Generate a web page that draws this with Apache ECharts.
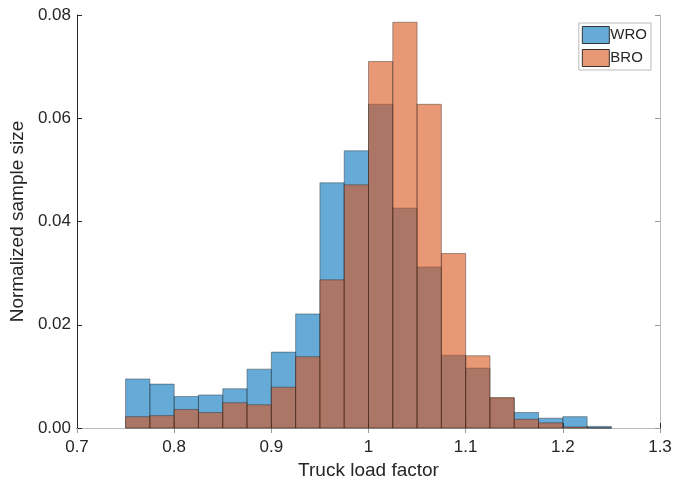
<!DOCTYPE html>
<html>
<head>
<meta charset="utf-8">
<script src="https://cdn.jsdelivr.net/npm/echarts@6/dist/echarts.min.js"></script>
<style>
  html, body { margin: 0; padding: 0; background: #fff; }
  #chart { width: 677px; height: 485px; }
</style>
</head>
<body>
<div id="chart"></div>
<script>
// bin edges of the histogram (truck load factor)
const binEdges = [0.75, 0.775, 0.8, 0.825, 0.85, 0.875, 0.9, 0.925, 0.95, 0.975,
  1.0, 1.025, 1.05, 1.075, 1.1, 1.125, 1.15, 1.175, 1.2, 1.225, 1.25];
// normalized sample size per bin
const wroValues = [0.0095, 0.0085, 0.0061, 0.0064, 0.0076, 0.0114, 0.0147, 0.0221, 0.0475, 0.0537,
  0.0627, 0.0426, 0.0312, 0.0141, 0.0116, 0.0058, 0.0030, 0.0019, 0.0022, 0.0003];
const broValues = [0.0022, 0.0024, 0.0036, 0.0030, 0.0049, 0.0045, 0.0079, 0.0138, 0.0287, 0.0471,
  0.0710, 0.0786, 0.0627, 0.0338, 0.0140, 0.0059, 0.0017, 0.0010, 0.0002, 0];
const seriesNames = ['WRO', 'BRO'];

const FONT = 'Liberation Sans, Arial, sans-serif';

function toBins(values) {
  return values.map((v, i) => [binEdges[i], binEdges[i + 1], v]);
}

function histRender(fill) {
  return function (params, api) {
    const p0 = api.coord([api.value(0), api.value(2)]);
    const p1 = api.coord([api.value(1), 0]);
    return {
      type: 'rect',
      shape: { x: p0[0], y: p0[1], width: p1[0] - p0[0], height: p1[1] - p0[1] },
      style: { fill: fill, stroke: 'rgba(30,30,30,0.5)', lineWidth: 0.8 }
    };
  };
}

const chart = echarts.init(document.getElementById('chart'));
const option = {
  animation: false,
  grid: { left: 77, right: 17, top: 15, bottom: 57 },
  legend: {
    data: [
      { name: 'WRO', icon: 'rect', itemStyle: { color: 'rgba(0,114,189,0.6)', borderColor: '#333', borderWidth: 1 } },
      { name: 'BRO', icon: 'rect', itemStyle: { color: 'rgba(217,83,25,0.6)', borderColor: '#333', borderWidth: 1 } }
    ],
    orient: 'vertical',
    right: 26,
    top: 23,
    padding: [3, 4, 3, 3],
    itemWidth: 27,
    itemHeight: 17,
    itemGap: 5,
    borderColor: '#bbb',
    borderWidth: 1,
    backgroundColor: '#fff',
    textStyle: { fontFamily: FONT, fontSize: 15, color: '#262626', padding: [0, 0, 0, -4] }
  },
  xAxis: [
    {
      type: 'value', min: 0.7, max: 1.3, interval: 0.1,
      name: 'Truck load factor', nameLocation: 'middle', nameGap: 31,
      nameTextStyle: { fontFamily: FONT, fontSize: 19, color: '#262626' },
      axisLine: { lineStyle: { color: '#262626', width: 1 } },
      axisTick: { inside: true, length: 5, lineStyle: { color: '#262626' } },
      axisLabel: { fontFamily: FONT, fontSize: 17, color: '#262626', margin: 11 },
      splitLine: { show: false }
    },
    {
      type: 'value', min: 0.7, max: 1.3, interval: 0.1, position: 'top',
      axisLine: { lineStyle: { color: '#bbb', width: 1 } },
      axisTick: { inside: true, length: 5, lineStyle: { color: '#999' } },
      axisLabel: { show: false },
      splitLine: { show: false }
    }
  ],
  yAxis: [
    {
      type: 'value', min: 0, max: 0.08, interval: 0.02,
      name: 'Normalized sample size', nameLocation: 'middle', nameGap: 47,
      nameTextStyle: { fontFamily: FONT, fontSize: 19, color: '#262626' },
      axisLine: { show: true, lineStyle: { color: '#262626', width: 1 } },
      axisTick: { show: true, inside: true, length: 5, lineStyle: { color: '#262626' } },
      axisLabel: { fontFamily: FONT, fontSize: 17, color: '#262626', margin: 6, formatter: v => v.toFixed(2) },
      splitLine: { show: false }
    },
    {
      type: 'value', min: 0, max: 0.08, interval: 0.02, position: 'right',
      axisLine: { show: true, lineStyle: { color: '#bbb', width: 1 } },
      axisTick: { show: true, inside: true, length: 5, lineStyle: { color: '#999' } },
      axisLabel: { show: false },
      splitLine: { show: false }
    }
  ],
  series: [
    {
      name: seriesNames[0], type: 'custom', xAxisIndex: 0, yAxisIndex: 0,
      itemStyle: { color: 'rgba(0,114,189,0.6)' },
      renderItem: histRender('rgba(0,114,189,0.6)'),
      encode: { x: [0, 1], y: 2 },
      data: toBins(wroValues)
    },
    {
      name: seriesNames[1], type: 'custom', xAxisIndex: 0, yAxisIndex: 0,
      itemStyle: { color: 'rgba(217,83,25,0.6)' },
      renderItem: histRender('rgba(217,83,25,0.6)'),
      encode: { x: [0, 1], y: 2 },
      data: toBins(broValues)
    }
  ]
};
chart.setOption(option);
</script>
</body>
</html>
